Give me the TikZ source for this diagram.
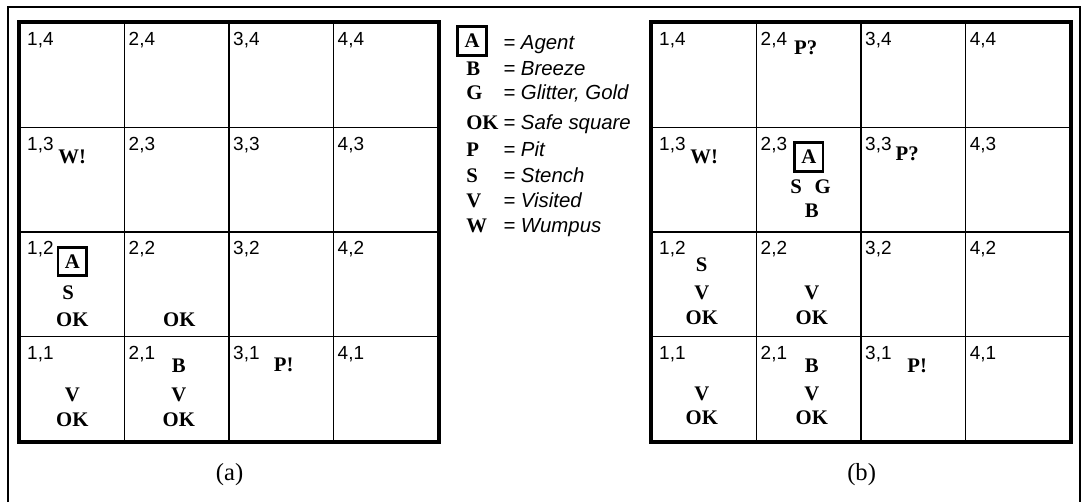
\documentclass[tikz,border=0pt]{standalone}
\usepackage{fontspec}
\setmainfont{Liberation Serif}
\setsansfont{Liberation Sans}
\usepackage{tikz}
\usetikzlibrary{positioning}

\tikzset{
  cell/.style={draw, line width=0.7pt, minimum size=2.09cm, inner sep=0pt},
  cellno/.style={anchor=north west, inner sep=0pt, font=\sffamily\fontsize{10.8}{13}\selectfont},
  percept/.style={inner sep=0pt, font=\bfseries\fontsize{11.8}{14}\selectfont},
  agentbox/.style={draw, line width=1.6pt, minimum size=0.57cm, inner sep=0pt, font=\bfseries\fontsize{11.8}{14}\selectfont},
  legendkey/.style={anchor=base west, inner sep=0pt, font=\bfseries\fontsize{11.8}{14}\selectfont},
  legendtext/.style={anchor=base west, inner sep=0pt, font=\sffamily\itshape\fontsize{11.6}{14}\selectfont},
  caption/.style={inner sep=0pt, font=\fontsize{14}{16}\selectfont}
}

\begin{document}
\begin{tikzpicture}
  \useasboundingbox (0,0) rectangle (21.74,10.04);
  % frame
  \draw[line width=1.2pt] (0.16,0) -- (0.16,9.90) -- (21.60,9.90) -- (21.60,0);

  % the two 4x4 worlds
  \foreach \i in {1,...,4}
    \foreach \j in {1,...,4} {
      \node[cell] (a\i\j) at ({0.40+(\i-0.5)*2.09},{1.22+(\j-0.5)*2.09}) {};
      \node[cellno] at ([shift={({0.09+0.06*(\i==1)},-0.20)}]a\i\j.north west) {\i,\j};
      \node[cell] (b\i\j) at ({13.04+(\i-0.5)*2.09},{1.22+(\j-0.5)*2.09}) {};
      \node[cellno] at ([shift={({0.09+0.06*(\i==1)},-0.20)}]b\i\j.north west) {\i,\j};
    }
  \draw[line width=2.2pt] (a11.south west) rectangle (a44.north east);
  \draw[line width=2.2pt] (b11.south west) rectangle (b44.north east);

  % (a)
  \node[percept] (a-wumpus) at ([yshift=-0.60cm]a13.north) {W!};
  \node[agentbox] (a-agent) at ([yshift=-0.60cm]a12.north) {A};
  \node[percept] (a-s12) at ([xshift=-0.08cm,yshift=-1.22cm]a12.north) {S};
  \node[percept] (a-ok12) at ([yshift=-1.76cm]a12.north) {OK};
  \node[percept] (a-ok22) at ([xshift=0.05cm,yshift=-1.76cm]a22.north) {OK};
  \node[percept] (a-v11) at ([yshift=-1.18cm]a11.north) {V};
  \node[percept] (a-ok11) at ([yshift=-1.68cm]a11.north) {OK};
  \node[percept] (a-b21) at ([xshift=0.04cm,yshift=-0.60cm]a21.north) {B};
  \node[percept] (a-v21) at ([xshift=0.04cm,yshift=-1.18cm]a21.north) {V};
  \node[percept] (a-ok21) at ([xshift=0.04cm,yshift=-1.68cm]a21.north) {OK};
  \node[percept] (a-pit) at ([xshift=0.05cm,yshift=-0.58cm]a31.north) {P!};

  % (b)
  \node[percept] (b-p24) at ([xshift=-0.06cm,yshift=-0.50cm]b24.north) {P?};
  \node[percept] (b-wumpus) at ([yshift=-0.60cm]b13.north) {W!};
  \node[agentbox] (b-agent) at ([yshift=-0.60cm]b23.north) {A};
  \node[percept] (b-s23) at ([xshift=-0.25cm,yshift=-1.20cm]b23.north) {S};
  \node[percept] (b-g23) at ([xshift=0.28cm,yshift=-1.20cm]b23.north) {G};
  \node[percept] (b-b23) at ([xshift=0.06cm,yshift=-1.68cm]b23.north) {B};
  \node[percept] (b-p33) at ([xshift=-0.12cm,yshift=-0.54cm]b33.north) {P?};
  \node[percept] (b-s12) at ([xshift=-0.05cm,yshift=-0.66cm]b12.north) {S};
  \node[percept] (b-v12) at ([xshift=-0.05cm,yshift=-1.22cm]b12.north) {V};
  \node[percept] (b-ok12) at ([xshift=-0.05cm,yshift=-1.72cm]b12.north) {OK};
  \node[percept] (b-v22) at ([xshift=0.06cm,yshift=-1.22cm]b22.north) {V};
  \node[percept] (b-ok22) at ([xshift=0.06cm,yshift=-1.72cm]b22.north) {OK};
  \node[percept] (b-v11) at ([xshift=-0.05cm,yshift=-1.16cm]b11.north) {V};
  \node[percept] (b-ok11) at ([xshift=-0.05cm,yshift=-1.64cm]b11.north) {OK};
  \node[percept] (b-b21) at ([xshift=0.06cm,yshift=-0.60cm]b21.north) {B};
  \node[percept] (b-v21) at ([xshift=0.06cm,yshift=-1.16cm]b21.north) {V};
  \node[percept] (b-ok21) at ([xshift=0.06cm,yshift=-1.64cm]b21.north) {OK};
  \node[percept] (b-pit) at ([xshift=0.08cm,yshift=-0.60cm]b31.north) {P!};

  % legend
  \node[agentbox] (key-agent) at (9.44,9.22) {A};
  \node[legendtext] (txt-agent) at (10.06,9.04) {= Agent};
  \foreach \k/\t/\y in {B/Breeze/8.52, G/{Glitter, Gold}/8.04, OK/Safe square/7.44,
                        P/Pit/6.90, S/Stench/6.38, V/Visited/5.90, W/Wumpus/5.38} {
    \node[legendkey] (key-\k) at (9.32,\y) {\k};
    \node[legendtext] (txt-\k) at (10.06,\y) {= \t};
  }

  % captions
  \node[caption, below=0.42cm of a21.south east] (cap-a) {(a)};
  \node[caption, below=0.42cm of b21.south east] (cap-b) {(b)};
\end{tikzpicture}
\end{document}
